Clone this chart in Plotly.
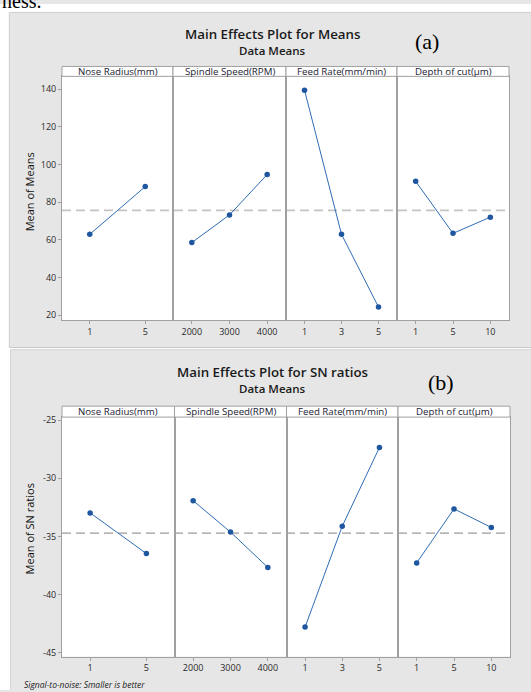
import plotly.graph_objects as go

W, H = 531, 692

# ---------------- data ----------------
factors = ["Nose Radius(mm)", "Spindle Speed(RPM)", "Feed Rate(mm/min)", "Depth of cut(\u00b5m)"]
factors_b = ["Nose Radius(mm)", "Spindle Speed(RPM)", "Feed Rate(mm/min)", "Depth of cut(\u00b5m)"]
levels = [["1", "5"], ["2000", "3000", "4000"], ["1", "3", "5"], ["1", "5", "10"]]

means_nose = [63.0, 88.3]
means_spindle = [58.6, 73.3, 94.7]
means_feed = [139.5, 63.0, 24.4]
means_depth = [91.1, 63.5, 72.1]
grand_mean_means = 75.7

sn_nose = [-32.98, -36.48]
sn_spindle = [-31.93, -34.63, -37.67]
sn_feed = [-42.80, -34.12, -27.36]
sn_depth = [-37.28, -32.64, -34.23]
grand_mean_sn = -34.72

means_ticks = [20, 40, 60, 80, 100, 120, 140]
means_ticklabels = ["20", "40", "60", "80", "100", "120", "140"]
sn_ticks = [-45, -40, -35, -30, -25]
sn_ticklabels = ["-45", "-40", "-35", "-30", "-25"]

means_series = [means_nose, means_spindle, means_feed, means_depth]
sn_series = [sn_nose, sn_spindle, sn_feed, sn_depth]

# ---------------- layout helpers ----------------
def px(x):
    return x / W

def py(y):
    return 1 - y / H

FONT = "Open Sans"
LINE = "#2f6db5"
MARK = "#1f56a0"
FRAME = "#a0a0a0"

rows = [
    dict(xb=[62, 173, 286, 397, 509], plot=(73, 319), strip=(63, 73),
         yr=[17.4, 146.8], series=means_series, ticks=means_ticks,
         ticklabels=means_ticklabels, mean=grand_mean_means,
         dash_color="#c4c4c4", dash_w=1.6, names=factors),
    dict(xb=[62, 174.5, 286.5, 398, 510], plot=(416.7, 658.3), strip=(405.7, 416.7),
         yr=[-45.34, -24.74], series=sn_series, ticks=sn_ticks,
         ticklabels=sn_ticklabels, mean=grand_mean_sn,
         dash_color="#9c9c9c", dash_w=1.2, names=factors_b),
]

fig = go.Figure()
layout = {}
shapes = []
annotations = []

# background boxes: white margins on gray paper
shapes.append(dict(type="rect", xref="paper", yref="paper", x0=0, x1=px(9.3), y0=0, y1=1,
                   fillcolor="white", line=dict(width=0), layer="below"))
shapes.append(dict(type="rect", xref="paper", yref="paper", x0=0, x1=1, y0=py(8.5), y1=1,
                   fillcolor="white", line=dict(width=0), layer="below"))
shapes.append(dict(type="rect", xref="paper", yref="paper", x0=0, x1=px(10.5), y0=0, y1=py(346.5),
                   fillcolor="white", line=dict(width=0), layer="below"))
shapes.append(dict(type="rect", xref="paper", yref="paper", x0=0, x1=1, y0=py(348.5), y1=py(346.5),
                   fillcolor="white", line=dict(width=0), layer="below"))
# box borders
shapes.append(dict(type="line", xref="paper", yref="paper", x0=px(9.3), x1=1, y0=py(8.5), y1=py(8.5),
                   line=dict(color="#cfcfcf", width=1)))
shapes.append(dict(type="line", xref="paper", yref="paper", x0=px(9.3), x1=px(9.3), y0=py(346.5), y1=py(8.5),
                   line=dict(color="#cfcfcf", width=1)))
shapes.append(dict(type="line", xref="paper", yref="paper", x0=px(9.3), x1=1, y0=py(346.5), y1=py(346.5),
                   line=dict(color="#c8c8c8", width=1)))
shapes.append(dict(type="line", xref="paper", yref="paper", x0=px(10.5), x1=1, y0=py(348.7), y1=py(348.7),
                   line=dict(color="#d4d4d4", width=1)))
shapes.append(dict(type="line", xref="paper", yref="paper", x0=px(10.5), x1=px(10.5), y0=0, y1=py(348.7),
                   line=dict(color="#d4d4d4", width=1)))

k = 0
for r, row in enumerate(rows):
    xb = row["xb"]
    for i in range(4):
        k += 1
        xa = "xaxis" if k == 1 else f"xaxis{k}"
        ya = "yaxis" if k == 1 else f"yaxis{k}"
        xs = "x" if k == 1 else f"x{k}"
        ys = "y" if k == 1 else f"y{k}"
        n = len(levels[i])
        fig.add_trace(go.Scatter(
            x=list(range(n)), y=row["series"][i], xaxis=xs, yaxis=ys,
            mode="lines+markers", line=dict(color=LINE, width=1),
            marker=dict(color=MARK, size=5.5, symbol="circle"),
            showlegend=False, hoverinfo="skip"))
        layout[xa] = dict(
            domain=[px(xb[i]), px(xb[i + 1])], anchor=ys,
            range=[-0.5, n - 0.5], tickvals=list(range(n)), ticktext=levels[i],
            ticks="outside", ticklen=3, tickcolor=FRAME, tickwidth=1,
            showline=True, mirror=True, linecolor=FRAME, linewidth=1,
            showgrid=False, zeroline=False, fixedrange=True,
            tickfont=dict(family=FONT, size=9, color="#2a2a2a"))
        yd = dict(
            domain=[py(row["plot"][1]), py(row["plot"][0])], anchor=xs,
            range=row["yr"], showline=True, mirror=True, linecolor=FRAME, linewidth=1,
            showgrid=False, zeroline=False, fixedrange=True)
        if i == 0:
            yd.update(tickvals=row["ticks"], ticktext=row["ticklabels"], ticks="outside",
                      ticklen=3, tickcolor=FRAME, tickwidth=1,
                      tickfont=dict(family=FONT, size=9, color="#2a2a2a"))
        else:
            yd.update(showticklabels=False, ticks="")
        layout[ya] = yd
        # strip header
        shapes.append(dict(type="rect", xref="paper", yref="paper",
                           x0=px(xb[i]), x1=px(xb[i + 1]),
                           y0=py(row["strip"][1]), y1=py(row["strip"][0]),
                           fillcolor="white", line=dict(color=FRAME, width=1)))
        annotations.append(dict(xref="paper", yref="paper",
                                x=px((xb[i] + xb[i + 1]) / 2),
                                y=py((row["strip"][0] + row["strip"][1]) / 2 + 0.3),
                                text=row["names"][i], showarrow=False,
                                xanchor="center", yanchor="middle",
                                font=dict(family=FONT, size=9.7, color="#222233")))
    # grand mean reference line across all panels
    first_y = "y" if r == 0 else "y5"
    shapes.append(dict(type="line", xref="paper", yref=first_y,
                       x0=px(xb[0]), x1=px(xb[-1]), y0=row["mean"], y1=row["mean"],
                       line=dict(color=row["dash_color"], width=row["dash_w"], dash="9px,5px"),
                       layer="below"))

# titles
def ann(x, y, text, size, family=FONT, color="#1a1a1a", weight=None, style=None,
        angle=0, xanchor="center"):
    f = dict(family=family, size=size, color=color)
    if weight:
        f["weight"] = weight
    if style:
        f["style"] = style
    annotations.append(dict(xref="paper", yref="paper", x=px(x), y=py(y), text=text,
                            showarrow=False, xanchor=xanchor, yanchor="middle",
                            textangle=angle, font=f))

ann(272, 30.7, "Main Effects Plot for Means", 13.3, weight=600)
ann(272, 46.7, "Data Means", 11.5, weight=600)
ann(427, 37.5, "(a)", 22, family="Liberation Serif", color="black")
ann(29, 190, "Mean of Means", 11, angle=-90, color="#111111")

ann(272, 371, "Main Effects Plot for SN ratios", 13.3, weight=600)
ann(272, 387.7, "Data Means", 11.5, weight=600)
ann(440.5, 381.5, "(b)", 22, family="Liberation Serif", color="black")
ann(29, 530, "Mean of SN ratios", 11, angle=-90, color="#111111")

ann(22, 686.5, "Signal-to-noise: Smaller is better", 8.5, style="italic", xanchor="left")

# cropped word from the page above (cut off at the top edge, as in the source image)
ann(0, -3, "ness.", 20, family="Liberation Serif", color="black", xanchor="left")

fig.update_layout(
    width=W, height=H, margin=dict(l=0, r=0, t=0, b=0),
    paper_bgcolor="#e6e6e6", plot_bgcolor="white",
    shapes=shapes, annotations=annotations, **layout)

fig.write_html("out.html", config={"displayModeBar": False},
               post_script="document.body.style.margin='0';document.body.style.overflow='hidden';")
